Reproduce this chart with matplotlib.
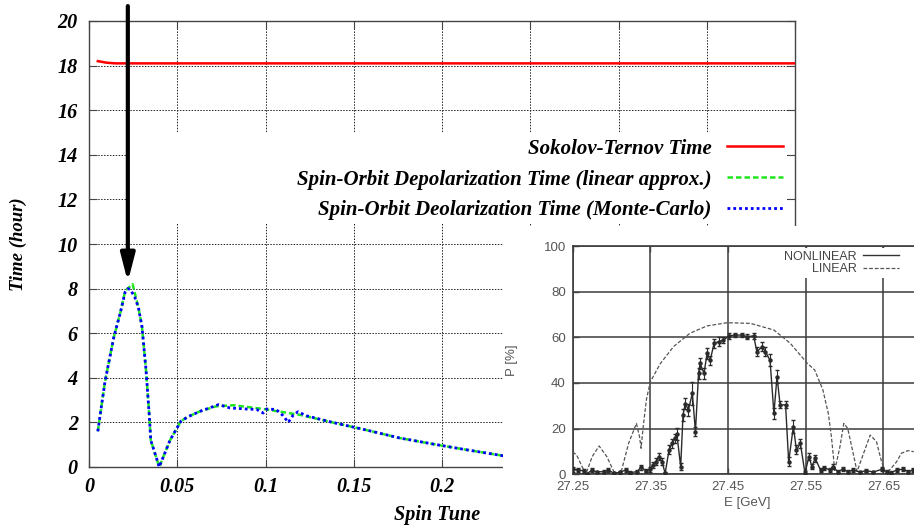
import matplotlib
matplotlib.use("Agg")
import numpy as np
import matplotlib.pyplot as plt
from matplotlib.patches import Rectangle
from matplotlib.lines import Line2D

# ---------------- main plot: polarization times vs spin tune ----------------
st_tune = [0.005, 0.010, 0.015, 0.02, 0.1, 0.2, 0.3, 0.4]
st_time = [18.2, 18.13, 18.1, 18.1, 18.1, 18.1, 18.1, 18.1]

lin_tune = [0.005, 0.009, 0.014, 0.018, 0.0205, 0.0247, 0.028, 0.030, 0.0323,
            0.0342, 0.035, 0.0398, 0.0459, 0.052, 0.056, 0.063, 0.072, 0.082,
            0.099, 0.12, 0.138, 0.157, 0.176, 0.197, 0.214, 0.235]
lin_time = [1.6, 3.8, 5.8, 7.0, 7.9, 8.2, 7.15, 6.3, 4.35,
            2.26, 1.2, 0.0, 1.2, 2.05, 2.25, 2.5, 2.72, 2.77,
            2.6, 2.33, 2.0, 1.66, 1.3, 1.0, 0.77, 0.5]

mc_tune = [0.005, 0.009, 0.014, 0.018, 0.0205, 0.022, 0.0235, 0.026, 0.028,
           0.030, 0.0323, 0.0342, 0.035, 0.0398, 0.0459, 0.052, 0.056, 0.063,
           0.0735, 0.0798, 0.0893, 0.095, 0.0987, 0.1006, 0.106, 0.110, 0.1129,
           0.1157, 0.1185, 0.123, 0.138, 0.157, 0.176, 0.197, 0.214, 0.235]
mc_time = [1.6, 3.8, 5.8, 7.0, 7.85, 8.0, 7.95, 7.6, 7.15,
           6.3, 4.35, 2.26, 1.2, 0.0, 1.2, 2.05, 2.25, 2.5,
           2.8, 2.65, 2.6, 2.58, 2.42, 2.6, 2.58, 2.3, 2.0,
           2.33, 2.48, 2.3, 2.0, 1.66, 1.3, 1.0, 0.77, 0.5]

# ticks beyond 0.2 sit under the inset, so they carry no label
tune_ticks = [0, 0.05, 0.1, 0.15, 0.2, 0.25, 0.3, 0.35, 0.4]
tune_tick_labels = ["0", "0.05", "0.1", "0.15", "0.2", "", "", "", ""]
time_ticks = [0, 2, 4, 6, 8, 10, 12, 14, 16, 18, 20]

series_labels = ["Sokolov-Ternov Time",
                 "Spin-Orbit Depolarization Time (linear approx.)",
                 "Spin-Orbit Deolarization Time (Monte-Carlo)"]

# ---------------- inset: polarization vs beam energy ----------------
nl_energy = [27.250, 27.257, 27.264, 27.268, 27.275, 27.281, 27.290, 27.296,
             27.303, 27.311, 27.318, 27.324, 27.333, 27.338, 27.344, 27.350,
             27.353, 27.357, 27.361, 27.365, 27.369, 27.374, 27.378, 27.382,
             27.384, 27.389, 27.392, 27.395, 27.399, 27.404, 27.408, 27.412,
             27.414, 27.419, 27.423, 27.427, 27.432, 27.438, 27.444, 27.451,
             27.459, 27.468, 27.474, 27.483, 27.487, 27.494, 27.498, 27.504,
             27.509, 27.513, 27.517, 27.524, 27.528, 27.534, 27.538, 27.543,
             27.549, 27.554, 27.558, 27.562, 27.569, 27.574, 27.581, 27.585,
             27.591, 27.598, 27.604, 27.611, 27.620, 27.628, 27.637, 27.648,
             27.654, 27.660, 27.667, 27.675, 27.682, 27.688]
nl_pol = [2.2, 1.9, 1.5, 0.1, 1.9, 1.0, 1.2, 1.9,
          0.4, 0.9, 1.9, 0.7, 1.2, 3.1, 1.6, 2.2,
          4.1, 5.5, 7.7, 5.5, 0.4, 10.7, 13.6, 15.8,
          17.7, 3.4, 26.0, 31.0, 28.2, 35.5, 18.7, 44.2,
          48.6, 44.2, 53.0, 50.0, 57.4, 58.1, 58.8, 60.6,
          61.0, 61.0, 60.3, 60.6, 53.7, 55.9, 53.7, 50.0,
          26.7, 42.8, 30.4, 30.4, 5.5, 20.9, 10.7, 13.6,
          0.4, 7.7, 3.4, 7.0, 1.9, 2.9, 1.9, 3.4,
          1.2, 2.2, 1.2, 1.9, 1.0, 1.6, 1.0, 2.2,
          1.2, 0.7, 1.9, 2.2, 1.2, 1.9]
nl_err = [1.0, 0.8, 0.8, 0.6, 0.8, 0.6, 0.6, 0.8,
          0.6, 0.6, 0.8, 0.6, 0.6, 1.0, 0.8, 1.0,
          1.5, 1.5, 1.5, 1.5, 0.6, 2.0, 2.0, 2.0,
          2.5, 1.5, 2.5, 2.5, 2.5, 5.0, 2.0, 2.5,
          2.5, 2.5, 2.5, 2.0, 2.0, 2.0, 1.5, 1.5,
          1.0, 1.0, 1.0, 1.5, 2.0, 2.0, 2.0, 2.5,
          2.5, 3.0, 1.5, 1.5, 2.0, 3.0, 2.0, 2.0,
          1.0, 1.5, 1.0, 1.5, 0.8, 0.8, 0.8, 1.0,
          0.6, 0.8, 0.6, 0.8, 0.6, 0.6, 0.6, 0.8,
          0.6, 0.6, 0.8, 0.8, 0.6, 0.8]

lin_energy = [27.250, 27.255, 27.262, 27.267, 27.275, 27.284, 27.294, 27.303,
              27.307, 27.313, 27.322, 27.332, 27.336, 27.338, 27.341, 27.345,
              27.350, 27.363, 27.380, 27.401, 27.423, 27.449, 27.479, 27.509,
              27.530, 27.552, 27.5615, 27.572, 27.579, 27.583, 27.586, 27.587,
              27.594, 27.599, 27.604, 27.611, 27.616, 27.626, 27.633, 27.641,
              27.647, 27.652, 27.658, 27.667, 27.673, 27.682, 27.689]
lin_pol = [9.8, 8.5, 3.4, 0.1, 7.7, 12.4, 7.7, 1.2,
           0.1, 1.9, 13.6, 22.3, 16.5, 11.4, 21.6, 33.0,
           40.6, 48.6, 56.0, 61.8, 65.0, 66.4, 66.1, 63.2,
           57.4, 48.6, 45.7, 37.0, 26.7, 16.5, 6.3, 1.2,
           12.1, 22.3, 20.1, 9.2, 1.2, 10.7, 17.2, 14.3,
           6.3, 1.2, 1.9, 5.5, 9.2, 10.4, 9.9]

energy_ticks = [27.25, 27.35, 27.45, 27.55, 27.65]
energy_tick_labels = ["27.25", "27.35", "27.45", "27.55", "27.65"]
pol_ticks = [0, 20, 40, 60, 80, 100]

# ---------------- figure ----------------
W, H = 914, 525
fig = plt.figure(figsize=(W / 100, H / 100), dpi=100)

serif = dict(family="Liberation Serif", weight="bold", style="italic")
sans = dict(family="Liberation Sans")

def fx(px):
    return px / W

def fy(py):
    return 1 - py / H

ax = fig.add_axes([fx(89), fy(467), fx(795) - fx(89), fy(21) - fy(467)])
ax.set_xlim(0, 0.4)
ax.set_ylim(0, 20)
ax.set_xticks(tune_ticks)
ax.set_xticklabels(tune_tick_labels)
ax.set_yticks(time_ticks)
for lbl in ax.get_xticklabels() + ax.get_yticklabels():
    lbl.set(**serif, fontsize=14.5)
ax.tick_params(direction="in", length=5.5, width=0.8, color="#444",
               top=True, right=True, pad=8)
ax.tick_params(axis="x", pad=7)
for sp in ax.spines.values():
    sp.set_color("#444")
    sp.set_linewidth(1.0)
ax.grid(True, color="#222", lw=0.7, linestyle=(0, (1.5, 1.5)))

ax.set_xlabel("Spin Tune", fontsize=14.5, **serif)
ax.set_ylabel("Time (hour)", fontsize=13.5, **serif)
ax.xaxis.set_label_coords(0.493, -0.085)
ax.yaxis.set_label_coords(-0.088, 0.5)

# blank area behind the key
ax.add_patch(Rectangle((0.0524, 0.547), 0.9887 - 0.0524, 0.749 - 0.547,
                       transform=ax.transAxes, facecolor="white",
                       edgecolor="none", zorder=1.7))

l_st, = ax.plot(st_tune, st_time, color="#ff0000", lw=1.8, zorder=3)
l_lin, = ax.plot(lin_tune, lin_time, color="#1ee61e", lw=1.8,
                 dashes=(2.2, 1.2), zorder=3)
l_mc, = ax.plot(mc_tune, mc_time, color="#0000ff", lw=2.0,
                dashes=(1.0, 1.1), zorder=4)

leg = ax.legend([l_st, l_lin, l_mc], series_labels, loc="upper right",
                bbox_to_anchor=(0.983, 0.736), markerfirst=False,
                frameon=False, handlelength=2.7, handletextpad=0.72,
                labelspacing=0.52, borderpad=0, borderaxespad=0,
                prop=dict(**serif, size=15))

# arrow pointing at the Monte-Carlo peak
i_pk = int(np.argmax(mc_time))
ax.annotate("", xy=(mc_tune[i_pk], mc_time[i_pk] + 0.3),
            xytext=(mc_tune[i_pk], 20.67),
            arrowprops=dict(arrowstyle="-|>,head_length=0.66,head_width=0.17",
                            color="black", lw=3, mutation_scale=25,
                            shrinkA=0, shrinkB=0),
            annotation_clip=False)

# ---------------- inset ----------------
fig.add_artist(Rectangle((fx(503), 0), 1 - fx(503), fy(226), facecolor="white",
                         edgecolor="none", transform=fig.transFigure, zorder=2))

ax2 = fig.add_axes([fx(572.7), fy(474.3), fx(922.3) - fx(572.7),
                    fy(246) - fy(474.3)], zorder=3)
ax2.set_xlim(27.25, 27.7)
ax2.set_ylim(0, 100)
ax2.set_xticks(energy_ticks)
ax2.set_xticklabels(energy_tick_labels)
ax2.set_yticks(pol_ticks)
for lbl in ax2.get_xticklabels() + ax2.get_yticklabels():
    lbl.set(**sans, fontsize=9.5, color="#555")
ax2.tick_params(direction="in", length=4, width=1, color="#444",
                top=True, right=True, pad=5)
for sp in ax2.spines.values():
    sp.set_color("#3c3c3c")
    sp.set_linewidth(1.2)
ax2.grid(True, color="#3c3c3c", lw=1.1)
ax2.set_xlabel("E [GeV]", fontsize=9.5, color="#555", **sans)
ax2.set_ylabel("P [%]", fontsize=9.5, color="#555", **sans)
ax2.xaxis.set_label_coords(0.499, -0.098)
ax2.yaxis.set_label_coords(-0.157, 0.5)

ax2.plot(lin_energy, lin_pol, color="#555", lw=0.9, dashes=(3, 1.5), zorder=3)
nl = ax2.errorbar(nl_energy, nl_pol, yerr=nl_err, fmt="-", color="#2a2a2a",
                  lw=1.0, marker="o", ms=2.2, ecolor="#2a2a2a",
                  elinewidth=0.8, capsize=1.5, zorder=4)
h_nl = Line2D([], [], color="#333", lw=1.0)
h_lin = Line2D([], [], color="#555", lw=0.9, dashes=(3, 1.5))
ax2.legend([h_nl, h_lin], ["NONLINEAR", "LINEAR"], loc="upper right",
           bbox_to_anchor=(0.941, 0.991), markerfirst=False, frameon=True,
           facecolor="white", edgecolor="none", framealpha=1, fancybox=False,
           handlelength=2.9, handletextpad=0.5, labelspacing=0.05,
           borderpad=0.2, borderaxespad=0, labelcolor="#444",
           prop=dict(**sans, size=9))

fig.savefig("out.png", dpi=100)
